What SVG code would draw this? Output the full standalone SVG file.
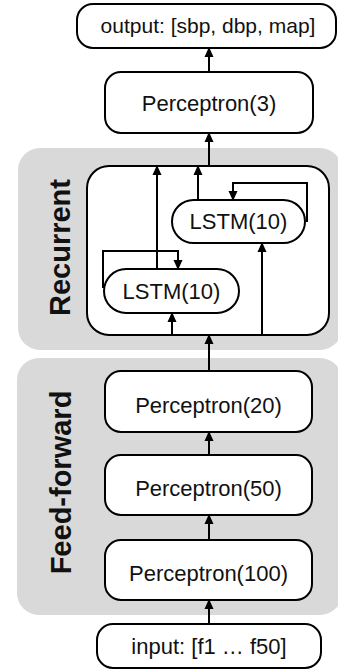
<svg xmlns="http://www.w3.org/2000/svg" width="338" height="671" viewBox="0 0 338 671">
<style>
.grp{fill:#d9d9d9;stroke:none}
.node{fill:#fff;stroke:#000;stroke-width:2}
.lbl{font-family:"Liberation Sans",Arial,Helvetica,sans-serif;font-size:22px;fill:#111;text-anchor:middle}
.glbl{font-family:"Liberation Sans",Arial,Helvetica,sans-serif;font-size:29px;font-weight:bold;fill:#111;text-anchor:middle}
.edge{fill:none;stroke:#000;stroke-width:2;marker-end:url(#ah)}
</style>
<defs>
<marker id="ah" viewBox="0 0 10 10" refX="9" refY="5" markerWidth="10" markerHeight="10" markerUnits="userSpaceOnUse" orient="auto">
<path d="M0,0.5 L10,5 L0,9.5 z" fill="#000"/>
</marker>
</defs>
<rect width="338" height="671" fill="#fff"/>
<g id="recurrent-group">
<rect class="grp" x="18" y="148" width="324" height="202" rx="22"/>
<text class="glbl" transform="translate(70,247.5) rotate(-90)">Recurrent</text>
</g>
<g id="feedforward-group">
<rect class="grp" x="17" y="358" width="325" height="257" rx="22"/>
<text class="glbl" transform="translate(71,482.5) rotate(-90)">Feed-forward</text>
</g>
<g id="output">
<rect class="node" x="77" y="4" width="259" height="44" rx="16"/>
<text class="lbl" x="208" y="33" style="font-size:21px">output: [sbp, dbp, map]</text>
</g>
<g id="perceptron3">
<rect class="node" x="105" y="72" width="208" height="61" rx="16"/>
<text class="lbl" x="209" y="111">Perceptron(3)</text>
</g>
<g id="recurrent-block">
<rect class="node" x="87" y="166" width="242" height="169" rx="22"/>
</g>
<g id="lstm-top">
<rect class="node" x="172" y="200" width="133" height="43" rx="21.5"/>
<text class="lbl" x="238.5" y="229">LSTM(10)</text>
</g>
<g id="lstm-bottom">
<rect class="node" x="104" y="269" width="135" height="44" rx="22"/>
<text class="lbl" x="171.5" y="298.5">LSTM(10)</text>
</g>
<g id="perceptron20">
<rect class="node" x="105" y="371" width="207" height="61" rx="16"/>
<text class="lbl" x="208.5" y="413">Perceptron(20)</text>
</g>
<g id="perceptron50">
<rect class="node" x="105" y="455" width="207" height="60" rx="16"/>
<text class="lbl" x="208.5" y="496">Perceptron(50)</text>
</g>
<g id="perceptron100">
<rect class="node" x="105" y="540" width="207" height="60" rx="16"/>
<text class="lbl" x="208.5" y="581">Perceptron(100)</text>
</g>
<g id="input">
<rect class="node" x="97" y="624" width="224" height="44" rx="16"/>
<text class="lbl" x="209" y="654">input: [f1 … f50]</text>
</g>
<g id="connectors">
<path class="edge" d="M209,624 V600"/>
<path class="edge" d="M209,540 V515"/>
<path class="edge" d="M209,455 V432"/>
<path class="edge" d="M209,371 V335"/>
<path class="edge" d="M172,335 V313"/>
<path class="edge" d="M262,335 V243"/>
<path class="edge" d="M157,269 V166"/>
<path class="edge" d="M198,200 V166"/>
<path class="edge" d="M103,288 V251 H178 V269"/>
<path class="edge" d="M307,222 V183 H233 V200"/>
<path class="edge" d="M209,166 V133"/>
<path class="edge" d="M209,72 V48"/>
</g>
</svg>
